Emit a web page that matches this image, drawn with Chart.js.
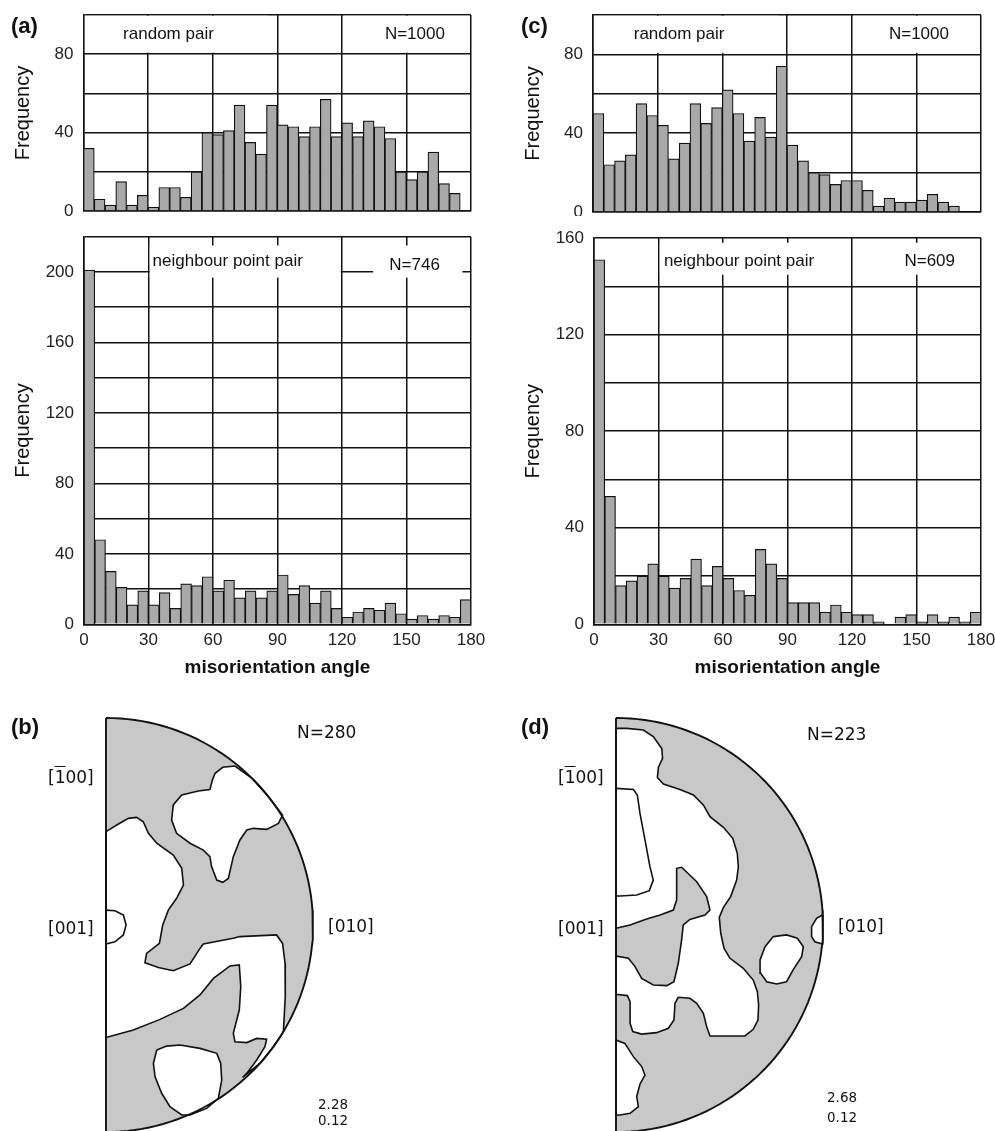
<!DOCTYPE html>
<html>
<head>
<meta charset="utf-8">
<script src="https://cdn.jsdelivr.net/npm/chart.js@4.4.1/dist/chart.umd.min.js"></script>
<style>
  html, body { margin: 0; padding: 0; background: #fff; }
  #figure { position: relative; width: 995px; height: 1131px; overflow: hidden; font-family: "Liberation Sans", Arial, sans-serif; color: #111; }
  #figure canvas { position: absolute; }
  .tag { position: absolute; font-weight: bold; font-size: 22px; line-height: 1; }
  .pole { position: absolute; font-family: "DejaVu Sans", sans-serif; font-size: 17px; line-height: 1; white-space: nowrap; }
  .small { font-size: 13.5px; }
  .over { text-decoration: overline; }
</style>
</head>
<body>
<div id="figure">
  <canvas id="aTop" width="485" height="216" style="left:0;top:0"></canvas>
  <canvas id="aBottom" width="495" height="460" style="left:0;top:225px"></canvas>
  <canvas id="cTop" width="485" height="216" style="left:510px;top:0"></canvas>
  <canvas id="cBottom" width="485" height="460" style="left:510px;top:225px"></canvas>
  <canvas id="bPole" width="490" height="441" style="left:0;top:690px"></canvas>
  <canvas id="dPole" width="485" height="441" style="left:510px;top:690px"></canvas>

  <div class="tag" style="left:11px;top:15px">(a)</div>
  <div class="tag" style="left:521px;top:15px">(c)</div>
  <div class="tag" style="left:11px;top:716px">(b)</div>
  <div class="tag" style="left:521px;top:716px">(d)</div>

  <div class="pole" style="left:297px;top:724px">N=280</div>
  <div class="pole" style="left:48px;top:769px">[<span class="over">1</span>00]</div>
  <div class="pole" style="left:48px;top:920px">[001]</div>
  <div class="pole" style="left:328px;top:918px">[010]</div>
  <div class="pole small" style="left:318px;top:1098px">2.28</div>
  <div class="pole small" style="left:318px;top:1114px">0.12</div>

  <div class="pole" style="left:807px;top:726px">N=223</div>
  <div class="pole" style="left:558px;top:769px">[<span class="over">1</span>00]</div>
  <div class="pole" style="left:558px;top:920px">[001]</div>
  <div class="pole" style="left:838px;top:918px">[010]</div>
  <div class="pole small" style="left:827px;top:1091px">2.68</div>
  <div class="pole small" style="left:827px;top:1111px">0.12</div>
</div>
<script>
// 5 degree bins of misorientation angle (bin centres)
const binCentres = [2.5, 7.5, 12.5, 17.5, 22.5, 27.5, 32.5, 37.5, 42.5, 47.5, 52.5, 57.5,
  62.5, 67.5, 72.5, 77.5, 82.5, 87.5, 92.5, 97.5, 102.5, 107.5, 112.5, 117.5,
  122.5, 127.5, 132.5, 137.5, 142.5, 147.5, 152.5, 157.5, 162.5, 167.5, 172.5, 177.5];

const randomPairA = [32, 6, 3, 15, 3, 8, 2, 12, 12, 7, 20, 40, 39, 41, 54, 35, 29, 54,
  44, 43, 38, 43, 57, 38, 45, 38, 46, 43, 37, 20, 16, 20, 30, 14, 9, 0];
const neighbourA = [201, 48, 30, 21, 11, 19, 11, 18, 9, 23, 22, 27, 19, 25, 15, 19, 15, 19,
  28, 17, 22, 12, 19, 9, 4, 7, 9, 8, 12, 6, 3, 5, 3, 5, 4, 14];
const randomPairC = [50, 24, 26, 29, 55, 49, 44, 27, 35, 55, 45, 53, 62, 50, 36, 48, 38, 74,
  34, 26, 20, 19, 14, 16, 16, 11, 3, 7, 5, 5, 6, 9, 5, 3, 0, 0];
const neighbourC = [151, 53, 16, 18, 20, 25, 20, 15, 19, 27, 16, 24, 19, 14, 12, 31, 25, 19,
  9, 9, 9, 5, 8, 5, 4, 4, 1, 0, 3, 4, 1, 4, 1, 3, 1, 5];

// pole figure contours, projection units (primitive circle radius = 100)
const bWhiteUpper = [[62.3, 76.8], [56.4, 76.2], [52.7, 73.3], [51.4, 70.0], [50.2, 65.5], [44.6, 64.7],
  [36.6, 62.8], [32.5, 58.0], [31.7, 50.7], [34.1, 44.3], [40.6, 39.5], [47.0, 36.2], [50.2, 33.0],
  [51.0, 28.2], [53.5, 21.7], [56.4, 20.6], [59.1, 22.5], [61.5, 33.0], [64.7, 41.1], [68.0, 45.9],
  [71.2, 46.7], [77.6, 46.2], [83.3, 49.1], [85.3, 53.1], [78.8, 61.6], [70.7, 70.7]];
const bWhiteCentral = [[0, 45.1], [6.0, 48.8], [10.8, 51.5], [14.8, 52.0], [18.0, 49.9], [20.5, 44.3],
  [24.5, 39.5], [32.5, 33.8], [36.6, 27.4], [37.4, 19.3], [34.1, 12.9], [30.1, 7.2], [27.4, 0],
  [25.8, -8.9], [19.6, -13.7], [18.8, -18.2], [25.3, -20.5], [32.5, -22.1], [40.6, -18.8],
  [45.4, -11.3], [47.0, -9.2], [61.5, -6.4], [64.7, -5.6], [82.4, -4.8], [85.3, -8.9], [86.5, -18.5],
  [86.6, -34.6], [85.7, -51.5], [80.9, -58.8], [74.3, -66.9], [66.0, -73.6], [68.0, -71.7],
  [72.8, -65.2], [76.8, -58.8], [77.6, -55.2], [72.8, -54.8], [68.0, -56.8], [62.3, -56.4],
  [61.5, -52.3], [64.4, -41.1], [65.1, -29.8], [64.4, -19.3], [59.9, -19.8], [51.9, -25.8],
  [45.4, -33.8], [37.4, -40.3], [26.1, -45.6], [13.2, -50.7], [0, -54.3]];
const bInnerLoop = [[0, 7.2], [4.3, 6.9], [8.4, 4.8], [9.7, 0], [8.4, -4.8], [4.3, -8.1], [0, -9.2]];
const bWhiteOval = [[24.5, -60.4], [29.3, -58.5], [35.7, -58.0], [45.4, -59.6], [53.5, -62.0],
  [55.4, -66.8], [55.9, -74.9], [54.3, -83.7], [48.6, -88.6], [40.6, -91.8], [36.6, -91.8],
  [30.9, -87.8], [26.9, -81.3], [23.7, -73.3], [22.9, -66.8]];

const dWhiteUpper = [[0, 95.0], [5.2, 95.0], [13.2, 94.2], [18.0, 91.0], [22.1, 85.3], [22.5, 80.5],
  [20.5, 76.2], [20.0, 71.3], [22.9, 68.1], [30.9, 65.5], [37.4, 62.8], [42.2, 58.0], [45.4, 52.3],
  [51.9, 47.2], [56.4, 41.9], [58.6, 34.6], [59.1, 28.2], [58.3, 21.7], [55.4, 13.7], [51.9, 8.5],
  [49.9, 3.7], [50.6, -4.0], [52.2, -11.3], [55.1, -16.1], [61.5, -20.9], [66.3, -26.6], [68.3, -32.2],
  [68.9, -38.6], [68.6, -45.9], [66.3, -50.4], [62.3, -53.6], [45.4, -53.6], [43.8, -49.1],
  [42.2, -42.7], [39.0, -37.8], [35.7, -35.4], [30.1, -34.9], [28.5, -37.8], [28.0, -45.9],
  [25.3, -49.9], [19.6, -52.0], [12.4, -52.7], [8.1, -51.5], [6.8, -47.5], [6.8, -37.0],
  [5.5, -34.1], [0, -33.5]];
const dInnerContour = [[0, 66.0], [8.4, 65.5], [10.3, 62.8], [11.6, 53.9], [14.0, 41.1], [16.4, 28.2],
  [18.0, 21.7], [16.1, 16.6], [10.0, 14.5], [1.9, 14.0], [0, 14.0]];
const dGreyBlob = [[0, -1.6], [6.8, 0], [14.8, 2.9], [21.3, 4.8], [27.7, 7.2], [29.3, 12.1],
  [29.3, 27.4], [31.7, 27.9], [39.0, 20.9], [43.8, 13.7], [45.4, 7.2], [43.0, 4.8], [35.7, 2.7],
  [32.5, 0], [31.7, -7.2], [30.1, -18.5], [28.0, -27.4], [24.5, -29.3], [18.0, -29.0], [12.4, -25.8],
  [9.2, -20.1], [6.0, -16.1], [0, -15.0]];
const dWhiteLowerLeft = [[0, -55.6], [4.3, -57.2], [8.4, -63.6], [12.4, -68.4], [14.0, -72.5],
  [11.6, -76.8], [10.0, -82.9], [10.8, -87.8], [6.8, -91.0], [1.9, -91.8], [0, -91.8]];
const dWhiteOval = [[76.0, -5.6], [82.4, -4.8], [87.6, -6.4], [90.5, -10.5], [89.7, -15.3],
  [85.7, -21.4], [82.4, -27.4], [77.6, -28.5], [72.8, -27.4], [69.9, -23.3], [69.6, -16.9], [72.0, -10.5]];
const dWhiteRim = [[99.8, 4.8], [96.9, 3.2], [94.5, -0.8], [94.5, -5.6], [96.1, -8.1], [99.7, -9.2], [100.0, -2.0]];

const INK = '#111';
const BAR_GREY = '#a9a9a9';
const POLE_GREY = '#c8c8c8';
const FONT = '"Liberation Sans", Arial, sans-serif';

// white label boxes inside the plot, masking the grid behind the text
const labelBoxes = {
  id: 'labelBoxes',
  afterDatasetsDraw(chart, args, opts) {
    const { ctx, scales: { x, y } } = chart;
    ctx.save();
    (opts.items || []).forEach((b) => {
      const left = x.getPixelForValue(b.x0);
      const right = x.getPixelForValue(b.x1);
      const top = y.getPixelForValue(b.y1);
      const bottom = y.getPixelForValue(b.y0);
      ctx.fillStyle = '#fff';
      ctx.fillRect(left, top, right - left, bottom - top);
      ctx.fillStyle = INK;
      ctx.font = '17px ' + FONT;
      ctx.textBaseline = 'middle';
      ctx.fillText(b.text, x.getPixelForValue(b.tx), y.getPixelForValue(b.ty));
    });
    ctx.restore();
  }
};

function histogram(cfg) {
  const axisFont = { family: FONT, size: 17 };
  new Chart(document.getElementById(cfg.id), {
    type: 'bar',
    data: {
      datasets: [{
        data: binCentres.map((x, i) => ({ x, y: cfg.values[i] })),
        backgroundColor: BAR_GREY,
        borderColor: INK,
        borderWidth: 1.2,
        borderSkipped: 'start',
        barPercentage: 1,
        categoryPercentage: 1
      }]
    },
    options: {
      responsive: false,
      animation: false,
      events: [],
      layout: { padding: cfg.padding },
      plugins: {
        legend: { display: false },
        tooltip: { enabled: false },
        labelBoxes: { items: cfg.boxes }
      },
      scales: {
        x: {
          type: 'linear',
          min: 0,
          max: 180,
          offset: false,
          grid: { color: INK, lineWidth: 1.5, drawTicks: false, offset: false },
          border: { color: INK, width: 1.5 },
          ticks: { display: cfg.showX, stepSize: 30, padding: 6, color: '#222', font: axisFont, maxRotation: 0 },
          title: {
            display: cfg.showX,
            text: 'misorientation angle',
            color: INK,
            font: { family: FONT, size: 19, weight: 'bold' },
            padding: { top: 0, bottom: 6 }
          },
          afterFit(scale) {
            scale.height = cfg.xHeight;
            scale.paddingLeft = 0;
            scale.paddingRight = 0;
          }
        },
        y: {
          min: 0,
          max: cfg.yMax,
          grid: { color: INK, lineWidth: 1.5, drawTicks: false },
          border: { color: INK, width: 1.5 },
          ticks: {
            stepSize: 20,
            padding: 10,
            color: '#222',
            font: axisFont,
            callback: (v) => (v % 40 === 0 ? v : '')
          },
          title: {
            display: true,
            text: 'Frequency',
            color: INK,
            font: { family: FONT, size: 20 },
            padding: { top: 11, bottom: 0 }
          },
          afterFit(scale) {
            scale.width = cfg.yWidth;
            scale.paddingTop = 0;
            scale.paddingBottom = 0;
          }
        }
      }
    },
    plugins: [labelBoxes]
  });
}

histogram({
  id: 'aTop', values: randomPairA, yMax: 100, yWidth: 83.5, xHeight: 0, showX: false,
  padding: { top: 15, right: 14, bottom: 5, left: 0 },
  boxes: [
    { text: 'random pair', x0: 0.6, x1: 86, y0: 80.8, y1: 99.6, tx: 18.4, ty: 90 },
    { text: 'N=1000', x0: 121, x1: 179.4, y0: 80.8, y1: 99.6, tx: 140, ty: 90 }
  ]
});
histogram({
  id: 'aBottom', values: neighbourA, yMax: 220, yWidth: 84, xHeight: 60.7, showX: true,
  padding: { top: 11.7, right: 24, bottom: 0, left: 0 },
  boxes: [
    { text: 'neighbour point pair', x0: 30.6, x1: 119.4, y0: 196.8, y1: 215, tx: 31.9, ty: 206 },
    { text: 'N=746', x0: 134.5, x1: 176, y0: 196.8, y1: 215, tx: 142, ty: 204 }
  ]
});
histogram({
  id: 'cTop', values: randomPairC, yMax: 100, yWidth: 83, xHeight: 0, showX: false,
  padding: { top: 15, right: 14, bottom: 4, left: 0 },
  boxes: [
    { text: 'random pair', x0: 0.6, x1: 86, y0: 80.8, y1: 99.6, tx: 18.9, ty: 90 },
    { text: 'N=1000', x0: 121, x1: 179.4, y0: 80.8, y1: 99.6, tx: 137.3, ty: 90 }
  ]
});
histogram({
  id: 'cBottom', values: neighbourC, yMax: 160, yWidth: 84, xHeight: 60.7, showX: true,
  padding: { top: 13, right: 14, bottom: 0, left: 0 },
  boxes: [
    { text: 'neighbour point pair', x0: 30.6, x1: 119.4, y0: 144.8, y1: 158, tx: 32.5, ty: 150.4 },
    { text: 'N=609', x0: 121, x1: 179.4, y0: 144.8, y1: 158, tx: 144.4, ty: 150.4 }
  ]
});

// fills a closed outline drawn from the dataset's own points
const polyFill = {
  id: 'polyFill',
  beforeDatasetDraw(chart, args) {
    const ds = chart.data.datasets[args.index];
    if (!ds.polyFill) return;
    const pts = args.meta.data;
    const { ctx } = chart;
    ctx.save();
    ctx.beginPath();
    pts.forEach((p, i) => (i ? ctx.lineTo(p.x, p.y) : ctx.moveTo(p.x, p.y)));
    ctx.closePath();
    ctx.fillStyle = ds.polyFill;
    ctx.fill();
    ctx.restore();
  }
};

// primitive circle (right half) and its diameter
const primitive = [];
for (let a = 90; a >= -90; a -= 2) {
  primitive.push([100 * Math.cos(a * Math.PI / 180), 100 * Math.sin(a * Math.PI / 180)]);
}

function poleFigure(id, xMax, whites, greys, contours) {
  const ring = (pts) => pts.concat([pts[0]]).map(([x, y]) => ({ x, y }));
  const outline = { showLine: true, borderColor: INK, borderWidth: 1.6, pointRadius: 0 };
  const datasets = [{ data: ring(primitive), polyFill: POLE_GREY, showLine: false, pointRadius: 0, order: 9 }];
  whites.forEach((p) => datasets.push({ ...outline, data: ring(p), polyFill: '#fff', order: 5 }));
  greys.forEach((p) => datasets.push({ ...outline, data: ring(p), polyFill: POLE_GREY, order: 4 }));
  contours.forEach((p) => datasets.push({ ...outline, data: p.map(([x, y]) => ({ x, y })), order: 3 }));
  datasets.push({ ...outline, data: ring(primitive), borderWidth: 1.9, order: 1 });

  new Chart(document.getElementById(id), {
    type: 'scatter',
    data: { datasets },
    options: {
      responsive: false,
      animation: false,
      events: [],
      layout: { padding: 0 },
      plugins: { legend: { display: false }, tooltip: { enabled: false } },
      scales: {
        x: { type: 'linear', display: false, min: -51.21, max: xMax },
        y: { type: 'linear', display: false, min: -99.52, max: 113.53 }
      }
    },
    plugins: [polyFill]
  });
}

poleFigure('bPole', 185.51, [bWhiteUpper, bWhiteCentral, bWhiteOval], [], [bInnerLoop]);
poleFigure('dPole', 183.1, [dWhiteUpper, dWhiteLowerLeft, dWhiteOval, dWhiteRim], [dGreyBlob], [dInnerContour]);
</script>
</body>
</html>
